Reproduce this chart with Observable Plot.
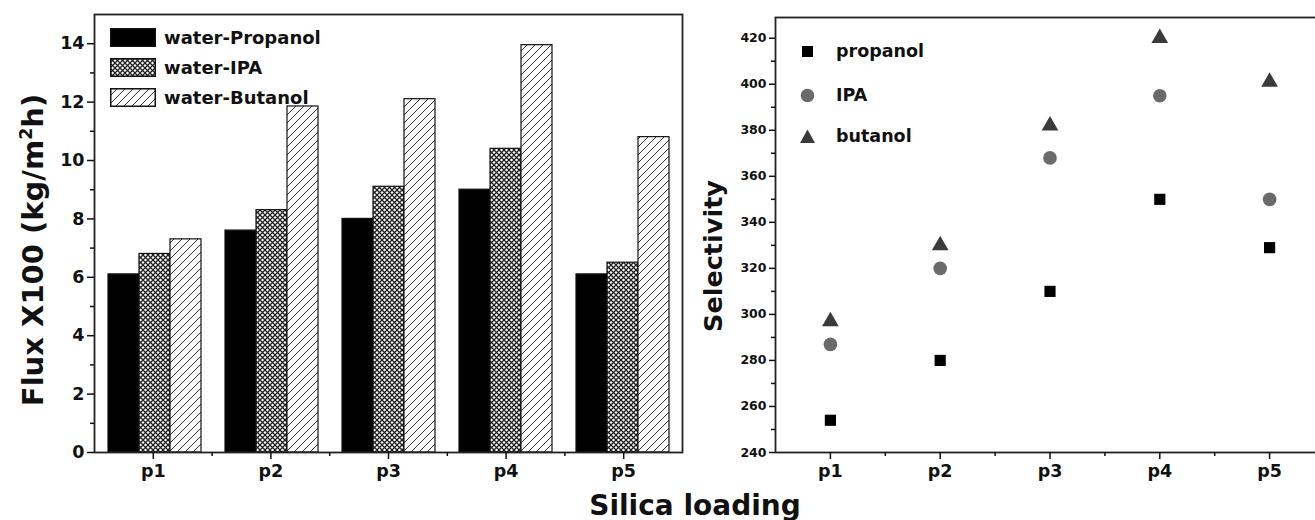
<!DOCTYPE html>
<html>
<head>
<meta charset="utf-8">
<script src="https://cdn.jsdelivr.net/npm/d3@7"></script>
<script src="https://cdn.jsdelivr.net/npm/@observablehq/plot@0.6"></script>
<style>
  html, body { margin: 0; padding: 0; background: #fff; }
  #root { position: relative; width: 1315px; height: 520px; overflow: hidden; background: #fff;
          font-family: "DejaVu Sans", sans-serif; font-weight: bold; color: #111; }
  .layer { position: absolute; top: 0; }
  .ylab { position: absolute; white-space: nowrap; transform: translate(-50%, -50%) rotate(-90deg); }
  .ylab sup { font-size: 0.6em; }
  .leg { position: absolute; display: flex; align-items: center; white-space: nowrap; }
</style>
</head>
<body>
<svg width="0" height="0" style="position:absolute">
  <defs>
    <pattern id="crossPat" patternUnits="userSpaceOnUse" width="5" height="5">
      <rect width="5" height="5" fill="#fff"/>
      <path d="M0,0L5,5M5,0L0,5" stroke="#222" stroke-width="1.3"/>
    </pattern>
    <pattern id="hatchPat" patternUnits="userSpaceOnUse" width="8" height="8">
      <rect width="8" height="8" fill="#fff"/>
      <path d="M-2,2L2,-2M0,8L8,0M6,10L10,6" stroke="#333" stroke-width="1"/>
    </pattern>
  </defs>
</svg>
<div id="root"></div>
<script>
// ---------- data ----------
const categories = ["p1", "p2", "p3", "p4", "p5"];

const fluxSeries = ["water-Propanol", "water-IPA", "water-Butanol"];
const fluxPropanol = [6.1, 7.6, 8.0, 9.0, 6.1];
const fluxIPA      = [6.8, 8.3, 9.1, 10.4, 6.5];
const fluxButanol  = [7.3, 11.85, 12.1, 13.95, 10.8];
const fluxTicks = [0, 2, 4, 6, 8, 10, 12, 14];
const fluxMinor = [1, 3, 5, 7, 9, 11, 13];

const selSeries = ["propanol", "IPA", "butanol"];
const selPropanol = [254, 280, 310, 350, 329];
const selIPA      = [287, 320, 368, 395, 350];
const selButanol  = [297, 330, 382, 420, 401];
const selTicks = [240, 260, 280, 300, 320, 340, 360, 380, 400, 420];
const selMinor = [250, 270, 290, 310, 330, 350, 370, 390, 410];

const xPos = [1, 2, 3, 4, 5];
const xMinor = [1.5, 2.5, 3.5, 4.5];

const fluxValues = [fluxPropanol, fluxIPA, fluxButanol];
const fluxFills = ["#000", "url(#crossPat)", "url(#hatchPat)"];
const selValues = [selPropanol, selIPA, selButanol];
const selSymbols = ["square", "circle", "triangle"];
const selFills = ["#000", "#6a6a6a", "#3a3a3a"];
const selR = [6.3, 6.8, 6.2];

const fluxData = fluxSeries.map((s, k) => categories.map((c, i) => ({cat: c, series: s, value: fluxValues[k][i]})));
const selData = selSeries.map((s, k) => categories.map((c, i) => ({x: xPos[i], series: s, value: selValues[k][i]})));

const root = document.getElementById("root");
const baseStyle = {fontFamily: "DejaVu Sans, sans-serif", fontWeight: "bold", background: "transparent", maxWidth: "none", color: "#111", overflow: "visible"};

function place(el, left) { el.classList.add("layer"); el.style.left = left + "px"; root.appendChild(el); }

// ---------- left panel ----------
const L = {width: 700, height: 500, marginLeft: 94, marginRight: 18, marginTop: 14, marginBottom: 48};

const bars = Plot.plot({
  ...L, style: baseStyle,
  fx: {domain: categories, paddingInner: 0.2, paddingOuter: 0.1, axis: null, label: null},
  x: {domain: fluxSeries, padding: 0, axis: null},
  y: {domain: [0, 15], axis: null},
  marks: fluxData.map((d, k) => Plot.barY(d, {fx: "cat", x: "series", y: "value", fill: fluxFills[k], stroke: "#111", strokeWidth: 1.2}))
});
place(bars, 0);

const leftAxes = Plot.plot({
  ...L, style: baseStyle,
  x: {domain: [0.5, 5.5], axis: null},
  y: {domain: [0, 15], axis: null},
  marks: [
    Plot.frame({stroke: "#222", strokeWidth: 1.8}),
    Plot.axisY({ticks: fluxTicks, tickSize: 7, tickPadding: 3, fontSize: 17.5, label: null, strokeWidth: 1.5}),
    Plot.axisY({ticks: fluxMinor, tickSize: 4, tickFormat: () => "", label: null, strokeWidth: 1.5}),
    Plot.axisX({ticks: xPos, tickSize: 7, tickPadding: 5, fontSize: 17.5, tickFormat: d => categories[d - 1], label: null, strokeWidth: 1.5}),
    Plot.axisX({ticks: xMinor, tickSize: 4, tickFormat: () => "", label: null, strokeWidth: 1.5})
  ]
});
place(leftAxes, 0);

// ---------- right panel ----------
const R = {width: 640, height: 500, marginLeft: 75, marginRight: 16, marginTop: 17, marginBottom: 48};
const scatter = Plot.plot({
  ...R, style: baseStyle,
  x: {domain: [0.5, 5.5], axis: null},
  y: {domain: [240, 429], axis: null},
  marks: [
    Plot.frame({stroke: "#222", strokeWidth: 1.8}),
    Plot.axisY({ticks: selTicks, tickSize: 6, tickPadding: 3, fontSize: 12.5, label: null, strokeWidth: 1.5}),
    Plot.axisY({ticks: selMinor, tickSize: 4, tickFormat: () => "", label: null, strokeWidth: 1.5}),
    Plot.axisX({ticks: xPos, tickSize: 7, tickPadding: 5, fontSize: 17.5, tickFormat: d => categories[d - 1], label: null, strokeWidth: 1.5}),
    Plot.axisX({ticks: xMinor, tickSize: 4, tickFormat: () => "", label: null, strokeWidth: 1.5}),
    ...selData.map((d, k) => Plot.dot(d, {x: "x", y: "value", symbol: selSymbols[k], fill: selFills[k], r: selR[k]}))
  ]
});
place(scatter, 700);

// ---------- labels ----------
function addDiv(cls, html, styles) {
  const d = document.createElement("div");
  d.className = cls; d.innerHTML = html;
  Object.assign(d.style, styles);
  root.appendChild(d);
  return d;
}
addDiv("ylab", "Flux X100 (kg/m<sup>2</sup>h)", {left: "33px", top: "250px", fontSize: "29px"});
addDiv("ylab", "Selectivity", {left: "713px", top: "256px", fontSize: "25.5px"});
addDiv("ylab", "Silica loading", {left: "695px", top: "505px", fontSize: "28px", transform: "translate(-50%, -50%)"});

// left legend
const legTopsL = [27, 57, 87];
fluxSeries.forEach((s, k) => {
  addDiv("leg", `<svg width="46" height="19" style="margin-right:8px"><rect x="0.75" y="0.75" width="44.5" height="17.5" fill="${fluxFills[k]}" stroke="#111" stroke-width="1.5"/></svg><span>${s}</span>`,
    {left: "110px", top: legTopsL[k] + "px", fontSize: "18px"});
});

// right legend
const legTopsR = [52, 96, 137];
const legSyms = [
  '<rect x="2" y="2" width="11" height="11" fill="#000"/>',
  '<circle cx="7.5" cy="7.5" r="6.8" fill="#6a6a6a"/>',
  '<path d="M7.5,0.5L15,14L0,14Z" fill="#3a3a3a"/>'
];
selSeries.forEach((s, k) => {
  addDiv("leg", `<svg width="15" height="15" style="margin-right:21px">${legSyms[k]}</svg><span>${s}</span>`,
    {left: "800px", top: (legTopsR[k] - 11) + "px", fontSize: "17.5px"});
});
</script>
</body>
</html>
